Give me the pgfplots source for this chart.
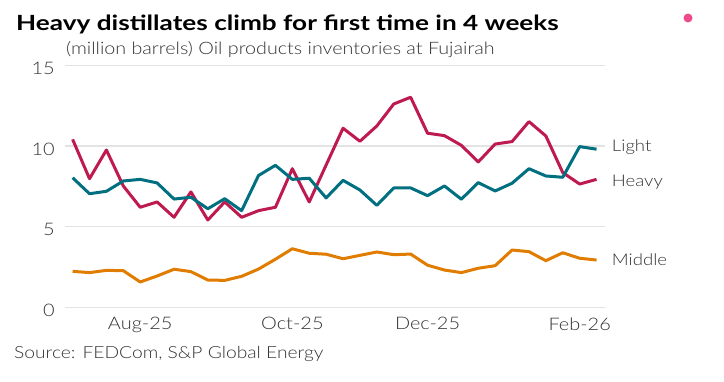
\documentclass[border=0pt]{standalone}
\usepackage{fontspec}
\setmainfont{Lato}[FakeStretch=1.15, UprightFont={* Light}]
\newfontfamily\titlefont{Lato}[FakeStretch=1.25]
\usepackage{pgfplots}
\pgfplotsset{compat=1.18}
\definecolor{heavy}{HTML}{BE1A50}
\definecolor{light}{HTML}{006F80}
\definecolor{middle}{HTML}{E07C00}
\definecolor{txt}{HTML}{333333}
\definecolor{gridc}{HTML}{E3E3E3}
\definecolor{dotc}{HTML}{EC4B8C}

\pgfplotstableread{
x heavy light middle
0 10.41 8.03 2.23
1 7.97 7.04 2.15
2 9.75 7.19 2.29
3 7.52 7.83 2.27
4 6.20 7.93 1.57
5 6.53 7.71 1.94
6 5.58 6.71 2.36
7 7.15 6.82 2.21
8 5.41 6.11 1.69
9 6.53 6.73 1.67
10 5.58 5.99 1.92
11 5.99 8.17 2.37
12 6.20 8.80 2.98
13 8.59 7.93 3.63
14 6.53 8.00 3.35
15 8.82 6.78 3.29
16 11.10 7.87 3.01
17 10.29 7.27 3.22
18 11.24 6.32 3.43
19 12.60 7.40 3.26
20 13.02 7.40 3.30
21 10.79 6.92 2.61
22 10.64 7.52 2.31
23 10.04 6.70 2.15
24 9.01 7.73 2.42
25 10.12 7.21 2.58
26 10.27 7.69 3.55
27 11.51 8.59 3.45
28 10.62 8.14 2.89
29 8.35 8.06 3.38
30 7.64 9.96 3.04
31 7.93 9.80 2.93
}\datatable

\begin{document}
\begin{tikzpicture}[x=1bp,y=1bp]
\useasboundingbox (0,0) rectangle (724,381);
\node[anchor=base west, inner sep=0, font=\titlefont\fontsize{21}{24}\selectfont\bfseries, text=black] at (16,351) {Heavy distillates climb for first time in 4 weeks};
\node[anchor=base west, inner sep=0, font=\fontsize{17.2}{19}\selectfont, text=txt] at (66,327) {(million barrels) Oil products inventories at Fujairah};
\node[anchor=base west, inner sep=0, font=\fontsize{16.8}{20}\selectfont, text=txt] at (14,23) {Source: FEDCom, S\&P Global Energy};
\fill[dotc] (688,363) circle (4.5);
\begin{axis}[
  at={(65bp,73.7bp)}, anchor=south west,
  scale only axis, width=540bp, height=242bp,
  xmin=-0.45, xmax=31.5, ymin=0, ymax=15,
  axis line style={draw=none},
  major tick length=0pt,
  ytick={0,5,10,15},
  ymajorgrids, grid style={gridc, line width=1.2bp},
  xtick={4,13,21,30},
  xticklabels={Aug-25,Oct-25,Dec-25,Feb-26},
  /pgf/number format/assume math mode=true,
  tick label style={font=\fontsize{17.4}{20}\selectfont, text=txt, inner sep=0pt},
  yticklabel style={anchor=east, xshift=-10bp, yshift=-3bp},
  xticklabel style={anchor=north, yshift=-10bp},
  clip=false,
  every axis plot/.append style={line width=3bp, line join=round, no markers},
]
\addplot[heavy] table[x=x, y=heavy] {\datatable};
\addplot[light] table[x=x, y=light] {\datatable};
\addplot[middle] table[x=x, y=middle] {\datatable};
\node[anchor=west, inner sep=0, font=\fontsize{16.2}{20}\selectfont, text=txt] at (axis cs:31.9,9.94) {Light};
\node[anchor=west, inner sep=0, font=\fontsize{16.2}{20}\selectfont, text=txt] at (axis cs:31.9,7.77) {Heavy};
\node[anchor=west, inner sep=0, font=\fontsize{16.2}{20}\selectfont, text=txt] at (axis cs:31.9,2.98) {Middle};
\end{axis}
\end{tikzpicture}
\end{document}
